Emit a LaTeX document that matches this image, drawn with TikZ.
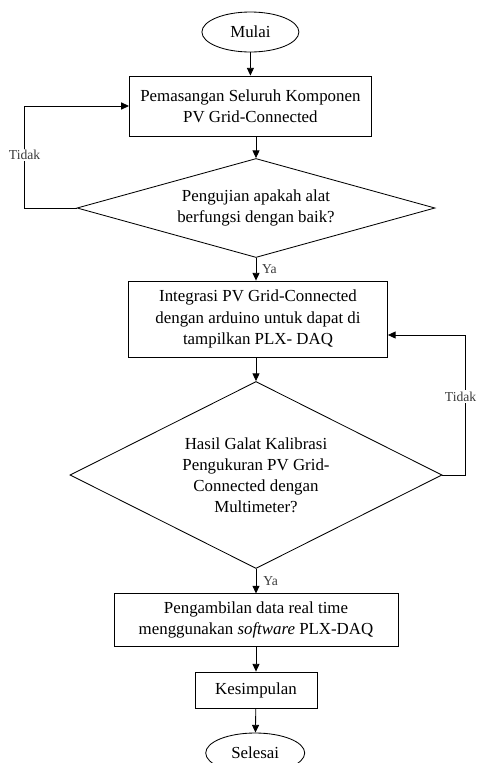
\documentclass[tikz,border=0pt]{standalone}
\usepackage{fontspec}
\setmainfont{Liberation Serif}
\usepackage{tikz}
\usetikzlibrary{arrows.meta,calc,positioning,shapes.geometric}
\definecolor{garisHitam}{HTML}{000000}
\definecolor{abuLabel}{HTML}{3A3A3A}

\begin{document}
\begin{tikzpicture}[line width=0.6pt, every node/.style={font=\fontsize{12}{15}\selectfont},
  kotak/.style={draw=garisHitam,align=center,inner sep=0pt},
  keputusan/.style={draw=garisHitam,diamond,align=center,inner sep=0pt},
  terminal/.style={draw=garisHitam,ellipse,inner sep=0pt},
  panah/.style={-{Triangle[length=5.5pt,width=5pt]}},
  ket/.style={font=\fontsize{9.7}{11}\selectfont,text=abuLabel,inner sep=1pt}]
\useasboundingbox (0,0) rectangle (11.95,-19.075);
\node[terminal,minimum width=2.425cm,minimum height=1cm] (mulai) at (6.26,-0.8) {Mulai};
\node[kotak,minimum width=6.05cm,minimum height=1.5cm] (pasang) at (6.26,-2.65) {Pemasangan Seluruh Komponen\\PV Grid-Connected};
\node[keputusan,aspect=3.6,minimum width=8.95cm,minimum height=2.475cm] (uji) at (6.4,-5.2) {Pengujian apakah alat\\berfungsi dengan baik?};
\node[kotak,minimum width=6.475cm,minimum height=1.9cm] (integrasi) at (6.45,-7.975) {Integrasi PV Grid-Connected\\dengan arduino untuk dapat di\\tampilkan PLX- DAQ};
\node[keputusan,aspect=2,minimum width=9.3cm,minimum height=4.675cm] (kalibrasi) at (6.4,-11.875) {Hasil Galat Kalibrasi\\Pengukuran PV Grid-\\Connected dengan\\Multimeter?};
\node[kotak,minimum width=7.1cm,minimum height=1.325cm] (ambil) at (6.4,-15.51) {Pengambilan data real time\\menggunakan \textit{software} PLX-DAQ};
\node[kotak,minimum width=3.05cm,minimum height=0.9cm] (simpul) at (6.4,-17.25) {Kesimpulan};
\node[terminal,minimum width=2.475cm,minimum height=1cm] (selesai) at (6.38,-18.825) {Selesai};
\draw[panah] (mulai)--(pasang);
\draw[panah] (pasang.south -| uji.north)--(uji.north);
\draw[panah] (uji.south)--(uji.south |- integrasi.north) node[midway,right,ket,xshift=3pt] {Ya};
\draw[panah] (integrasi.south -| kalibrasi.north)--(kalibrasi.north);
\draw[panah] (kalibrasi.south)--(ambil.north) node[midway,right,ket,xshift=4pt] {Ya};
\draw[panah] (ambil)--(simpul); \draw[panah] (simpul)--(selesai);
\draw[panah] (uji.west)--++(-1.3,0) |- (pasang.west) node[pos=0.26,ket,fill=white] {Tidak};
\draw[panah] (kalibrasi.east)--++(0.575,0) |- ([yshift=-0.4cm]integrasi.east) node[pos=0.28,ket,fill=white,xshift=-0.12cm] {Tidak};
\end{tikzpicture}
\end{document}
